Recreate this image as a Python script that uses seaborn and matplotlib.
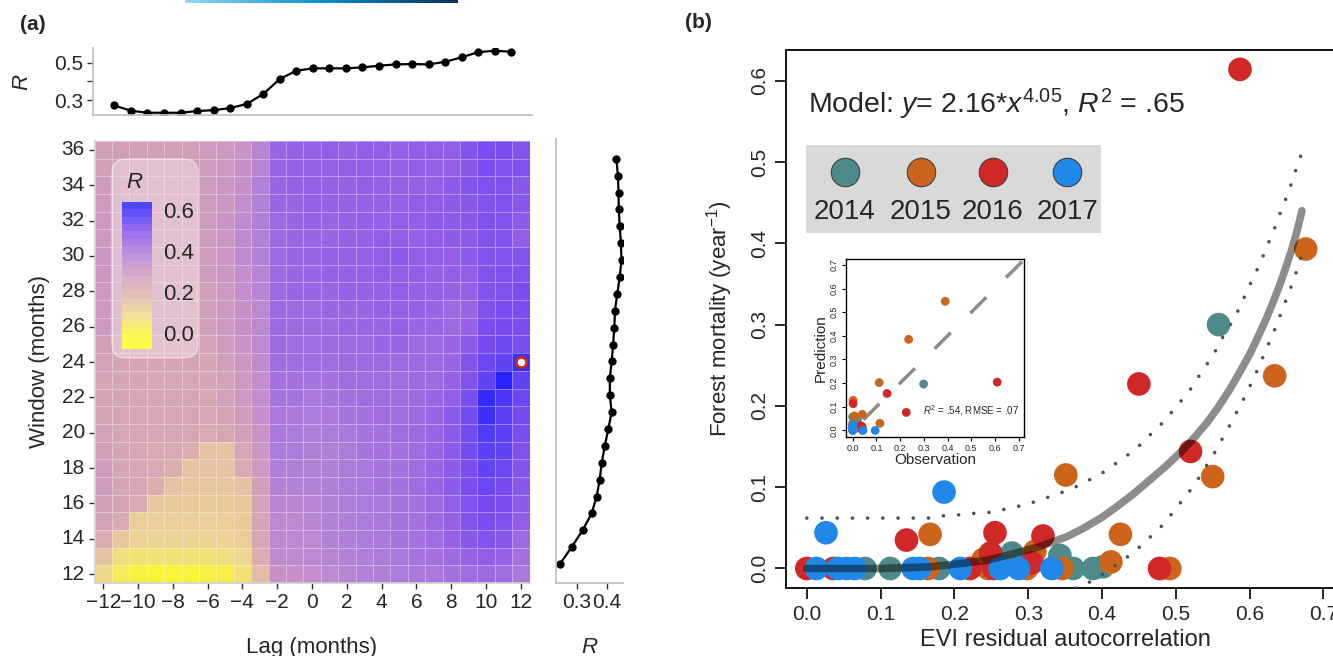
import numpy as np
import pandas as pd
import matplotlib
matplotlib.use("Agg")
import matplotlib.pyplot as plt
import seaborn as sns
from matplotlib.colors import LinearSegmentedColormap, Normalize
from matplotlib.patches import FancyBboxPatch, Rectangle
from matplotlib.transforms import IdentityTransform
import matplotlib.cm as cm

# ---------------- data: panel (a) ----------------
lags = list(range(-12, 13))
windows_desc = list(range(36, 11, -1))
windows = list(range(12, 37))

# R values, rows = window 36 (top) ... 12 (bottom), columns = lag -12 ... 12
heat_R = [
    [.27,.27,.27,.27,.27,.27,.28,.29,.31,.36,.45,.46,.46,.47,.46,.47,.47,.46,.47,.47,.47,.50,.52,.52,.50],  # 36
    [.27,.27,.26,.26,.26,.27,.28,.29,.32,.36,.45,.46,.46,.46,.47,.47,.46,.46,.47,.46,.47,.49,.52,.51,.51],  # 35
    [.28,.27,.26,.26,.26,.27,.28,.30,.32,.37,.45,.46,.46,.46,.46,.47,.46,.46,.46,.46,.48,.50,.51,.51,.49],  # 34
    [.28,.27,.26,.26,.26,.26,.28,.30,.33,.37,.45,.45,.46,.46,.46,.46,.46,.46,.47,.47,.48,.49,.50,.51,.49],  # 33
    [.29,.27,.26,.26,.26,.26,.28,.31,.34,.38,.44,.45,.46,.45,.46,.47,.46,.47,.47,.48,.48,.49,.51,.50,.48],  # 32
    [.29,.27,.26,.26,.26,.26,.28,.30,.34,.37,.44,.45,.45,.45,.46,.46,.47,.47,.46,.47,.48,.48,.50,.50,.47],  # 31
    [.30,.28,.26,.26,.26,.26,.28,.30,.34,.37,.44,.45,.45,.46,.46,.46,.47,.48,.47,.47,.47,.48,.50,.50,.50],  # 30
    [.30,.28,.26,.26,.26,.26,.28,.30,.33,.36,.44,.45,.45,.46,.46,.46,.47,.47,.47,.46,.47,.47,.50,.51,.51],  # 29
    [.29,.28,.26,.26,.26,.26,.27,.29,.33,.36,.44,.45,.45,.45,.46,.46,.46,.47,.46,.46,.46,.46,.50,.51,.52],  # 28
    [.29,.27,.26,.26,.26,.26,.27,.29,.32,.35,.44,.44,.44,.45,.45,.45,.46,.46,.46,.45,.44,.45,.51,.52,.52],  # 27
    [.29,.27,.26,.26,.26,.26,.27,.29,.32,.35,.44,.44,.44,.44,.45,.45,.45,.46,.45,.45,.44,.46,.52,.53,.52],  # 26
    [.27,.26,.25,.25,.25,.25,.26,.28,.31,.35,.44,.43,.43,.44,.44,.44,.45,.45,.44,.44,.45,.48,.53,.54,.52],  # 25
    [.26,.25,.25,.25,.25,.25,.25,.27,.30,.34,.43,.43,.43,.43,.44,.44,.44,.44,.44,.44,.45,.50,.54,.55,.60],  # 24
    [.25,.25,.25,.24,.24,.24,.25,.26,.29,.33,.42,.42,.41,.42,.43,.43,.43,.43,.44,.44,.46,.51,.55,.63,.55],  # 23
    [.25,.25,.24,.24,.24,.24,.24,.26,.29,.33,.41,.41,.40,.41,.42,.43,.43,.43,.44,.45,.47,.52,.61,.58,.54],  # 22
    [.25,.24,.24,.24,.24,.24,.24,.25,.28,.32,.40,.40,.39,.40,.41,.42,.43,.43,.44,.45,.48,.53,.60,.56,.53],  # 21
    [.26,.24,.24,.24,.24,.24,.23,.24,.27,.31,.40,.39,.38,.39,.40,.41,.42,.43,.44,.45,.48,.53,.57,.56,.52],  # 20
    [.27,.25,.24,.23,.23,.21,.15,.15,.24,.30,.39,.39,.38,.38,.39,.41,.42,.42,.43,.45,.48,.53,.56,.55,.51],  # 19
    [.28,.25,.24,.23,.20,.15,.15,.15,.22,.29,.38,.38,.37,.38,.39,.40,.41,.42,.43,.45,.48,.52,.55,.54,.50],  # 18
    [.28,.25,.24,.20,.15,.14,.14,.14,.16,.27,.37,.37,.37,.38,.39,.40,.41,.42,.43,.45,.48,.52,.54,.53,.49],  # 17
    [.27,.25,.22,.14,.13,.13,.13,.13,.14,.26,.36,.36,.36,.37,.38,.39,.40,.41,.42,.44,.47,.51,.53,.52,.48],  # 16
    [.26,.22,.12,.12,.12,.12,.12,.12,.13,.25,.35,.35,.36,.37,.38,.39,.40,.41,.42,.44,.46,.50,.52,.51,.47],  # 15
    [.21,.14,.11,.10,.10,.10,.10,.10,.12,.24,.35,.35,.35,.37,.38,.39,.40,.41,.42,.43,.46,.49,.50,.49,.44],  # 14
    [.15,.07,.06,.06,.06,.06,.06,.07,.09,.21,.34,.34,.35,.36,.37,.38,.39,.40,.41,.42,.44,.46,.47,.46,.42],  # 13
    [.09,.03,.01,.00,.00,.00,.01,.02,.06,.17,.32,.32,.33,.35,.36,.37,.38,.39,.40,.40,.42,.43,.44,.43,.40],  # 12
]
best_lag, best_window = 12, 24

lag_R = [0.271, 0.243, 0.232, 0.232, 0.232, 0.241, 0.246, 0.257, 0.279, 0.332, 0.413, 0.457,
         0.470, 0.470, 0.470, 0.475, 0.484, 0.491, 0.493, 0.491, 0.505, 0.529, 0.557, 0.564, 0.559]
window_R = [0.244, 0.283, 0.320, 0.350, 0.367, 0.377, 0.384, 0.394, 0.406, 0.417, 0.411, 0.411, 0.417,
            0.422, 0.426, 0.428, 0.436, 0.444, 0.450, 0.448, 0.444, 0.441, 0.440, 0.438, 0.433]

# ---------------- data: panel (b) ----------------
years = ["2014", "2015", "2016", "2017"]
year_colors = ["#4f8a8b", "#cc651b", "#d02727", "#1f88e9"]

x_2014 = [0.079, 0.113, 0.179, 0.278, 0.343, 0.361, 0.388, 0.401, 0.558]
y_2014 = [0.000, 0.000, 0.000, 0.019, 0.016, 0.000, 0.000, 0.002, 0.300]
x_2015 = [0.164, 0.167, 0.239, 0.246, 0.298, 0.309, 0.346, 0.351, 0.412, 0.425, 0.492, 0.550, 0.634, 0.676]
y_2015 = [0.000, 0.042, 0.011, 0.000, 0.000, 0.021, 0.000, 0.115, 0.008, 0.042, 0.000, 0.113, 0.237, 0.393]
x_2016 = [0.000, 0.036, 0.135, 0.221, 0.249, 0.253, 0.255, 0.305, 0.320, 0.450, 0.478, 0.520, 0.587]
y_2016 = [0.000, 0.000, 0.035, 0.000, 0.019, 0.000, 0.044, 0.007, 0.040, 0.227, 0.000, 0.144, 0.614]
x_2017 = [0.013, 0.026, 0.042, 0.054, 0.065, 0.144, 0.153, 0.186, 0.208, 0.262, 0.287, 0.332]
y_2017 = [0.000, 0.044, 0.000, 0.000, 0.000, 0.000, 0.000, 0.094, 0.000, 0.000, 0.000, 0.000]

fit_x = [0.0, 0.099, 0.167, 0.208, 0.244, 0.279, 0.316, 0.352, 0.374, 0.400, 0.420, 0.443, 0.465,
         0.488, 0.510, 0.526, 0.542, 0.558, 0.573, 0.587, 0.601, 0.612, 0.623, 0.632, 0.641, 0.649,
         0.657, 0.664, 0.671]
fit_y = [0.0, 0.000, 0.002, 0.006, 0.010, 0.018, 0.027, 0.039, 0.049, 0.063, 0.076, 0.092, 0.109,
         0.127, 0.146, 0.162, 0.179, 0.199, 0.220, 0.242, 0.265, 0.286, 0.308, 0.328, 0.349, 0.370,
         0.392, 0.414, 0.440]
upper_x = [0.000, 0.167, 0.186, 0.206, 0.228, 0.248, 0.269, 0.289, 0.309, 0.347, 0.366, 0.385, 0.403,
           0.420, 0.437, 0.453, 0.468, 0.483, 0.496, 0.509, 0.522, 0.533, 0.545, 0.556, 0.565, 0.576,
           0.586, 0.594, 0.603, 0.612, 0.620, 0.628, 0.636, 0.643, 0.651, 0.658, 0.664, 0.671]
upper_y = [0.062, 0.062, 0.065, 0.066, 0.068, 0.069, 0.073, 0.077, 0.082, 0.094, 0.101, 0.110, 0.119,
           0.130, 0.141, 0.153, 0.167, 0.180, 0.194, 0.208, 0.223, 0.239, 0.255, 0.271, 0.287, 0.303,
           0.320, 0.336, 0.354, 0.371, 0.388, 0.406, 0.423, 0.441, 0.459, 0.477, 0.494, 0.512]
lower_x = [0.330, 0.366, 0.385, 0.403, 0.420, 0.437, 0.453, 0.468, 0.483, 0.496, 0.509, 0.522, 0.533,
           0.544, 0.555, 0.565, 0.575, 0.584, 0.594, 0.603, 0.612, 0.620, 0.628, 0.636, 0.643, 0.651,
           0.658, 0.665, 0.671]
lower_y = [-0.045, -0.023, -0.016, -0.006, 0.005, 0.016, 0.028, 0.041, 0.054, 0.069, 0.084, 0.099, 0.114,
           0.130, 0.146, 0.163, 0.179, 0.195, 0.212, 0.229, 0.247, 0.264, 0.281, 0.298, 0.315, 0.334,
           0.351, 0.369, 0.387]

# inset: observation vs prediction
obs_2014 = [0.299, 0.000, 0.010, 0.020, 0.000]
pred_2014 = [0.196, 0.057, 0.030, 0.045, 0.020]
obs_2015 = [0.390, 0.236, 0.112, 0.041, 0.115, 0.002, 0.008, 0.000, 0.040]
pred_2015 = [0.546, 0.385, 0.202, 0.068, 0.030, 0.127, 0.061, 0.030, 0.000]
obs_2016 = [0.609, 0.145, 0.226, 0.002, 0.040, 0.025, 0.035, 0.000]
pred_2016 = [0.204, 0.156, 0.076, 0.113, 0.015, 0.012, 0.020, 0.000]
obs_2017 = [0.095, 0.044, 0.000, 0.000, 0.002, 0.005, 0.000]
pred_2017 = [0.000, 0.000, 0.000, 0.010, 0.025, 0.005, 0.015]
one_to_one = [0.045, 0.730]

model_text = r"Model: $y$= 2.16*$x^{4.05}$, $R^2$ = .65"
inset_text = r"$R^2$ = .54, RMSE = .07"

# ---------------- style ----------------
sns.set_theme(style="white")
plt.rcParams['font.family'] = ['Liberation Sans', 'DejaVu Sans']
plt.rcParams['mathtext.fontset'] = 'custom'
plt.rcParams['mathtext.rm'] = 'Liberation Sans'
plt.rcParams['mathtext.it'] = 'Liberation Sans:italic'
plt.rcParams['mathtext.bf'] = 'Liberation Sans:bold'
plt.rcParams['axes.unicode_minus'] = True

W, H = 1333, 656
fig = plt.figure(figsize=(W / 100, H / 100), dpi=100)


def box(l, t, r, b):
    return [l / W, 1 - b / H, (r - l) / W, (b - t) / H]


vmin, vmax = -0.08, 0.64
anchors = [(-0.08, "#ffff20"), (0.0, "#f8f438"), (0.05, "#f4e470"), (0.10, "#eed494"),
           (0.15, "#e6c4a2"), (0.20, "#dcaeae"), (0.26, "#d4a2b8"), (0.32, "#c890c8"),
           (0.38, "#b080d8"), (0.46, "#9762e6"), (0.52, "#7a4ef0"), (0.56, "#5c40f4"),
           (0.60, "#3a30f8"), (0.64, "#2020ff")]
cmap = LinearSegmentedColormap.from_list(
    "rcmap", [((v - vmin) / (vmax - vmin), c) for v, c in anchors])

# ---------------- heatmap ----------------
ax_h = fig.add_axes(box(94.5, 141, 529.5, 583))
heat_df = pd.DataFrame(heat_R, index=windows_desc, columns=lags)
sns.heatmap(heat_df, ax=ax_h, cmap=cmap, vmin=vmin, vmax=vmax, cbar=False,
            linewidths=0.5, linecolor=(1, 1, 1, 0.35))
xt = [lags.index(l) + 0.5 for l in lags if l % 2 == 0]
ax_h.set_xticks(xt)
ax_h.set_xticklabels([("\u2212" + str(-l)) if l < 0 else str(l) for l in lags if l % 2 == 0],
                     rotation=0, fontsize=15)
yt = [windows_desc.index(w) + 0.5 for w in windows_desc if w % 2 == 0]
ax_h.set_yticks(yt)
ax_h.set_yticklabels([str(w) for w in windows_desc if w % 2 == 0], rotation=0, fontsize=15)
ax_h.tick_params(axis='both', which='both', length=4, width=1, color='#333333', pad=3,
                 bottom=True, left=True)
ax_h.set_xlabel("Lag (months)", fontsize=16, labelpad=18)
ax_h.set_ylabel("Window (months)", fontsize=16, labelpad=8)
for s in ['left', 'bottom']:
    ax_h.spines[s].set_visible(True)
    ax_h.spines[s].set_color('#d0d0d0')
ax_h.scatter([lags.index(best_lag) + 0.5], [windows_desc.index(best_window) + 0.5],
             s=55, facecolor='white', edgecolor='#d02020', linewidth=2, zorder=5)

# legend box for colour scale
legend_bg = FancyBboxPatch((112, H - 358), 86, 199, boxstyle="round,pad=0,rounding_size=14",
                           transform=IdentityTransform(), facecolor=(1, 1, 1, 0.35),
                           edgecolor=(1, 1, 1, 0.45), linewidth=1, zorder=3)
fig.add_artist(legend_bg)
fig.text(134 / W, 1 - 182 / H, "R", fontsize=16, style='italic', ha='center', va='center', zorder=6)
cax = fig.add_axes(box(122, 202, 152, 349))
cax.set_zorder(5)
sm = cm.ScalarMappable(norm=Normalize(vmin, vmax), cmap=cmap)
cb = fig.colorbar(sm, cax=cax, boundaries=np.linspace(vmin, vmax, 21))
cb.outline.set_visible(False)
cb.solids.set_alpha(0.85)
cb.set_ticks([0.0, 0.2, 0.4, 0.6])
cb.set_ticklabels(["0.0", "0.2", "0.4", "0.6"])
cax.tick_params(axis='y', which='both', left=True, right=True, direction='in', color='white',
                length=5, width=1.2, labelsize=16, pad=8)
cax.minorticks_off()

# ---------------- top marginal ----------------
ax_t = fig.add_axes(box(93, 48, 532, 115))
sns.lineplot(x=lags, y=lag_R, ax=ax_t, color='black', marker='o', markersize=6,
             markeredgewidth=0, linewidth=1.6)
ax_t.set_xlim(-13.29, 13.25)
ax_t.set_ylim(0.22, 0.579)
ax_t.set_xticks([])
ax_t.set_yticks([0.3, 0.4, 0.5])
ax_t.set_yticklabels(["0.3", "", "0.5"], fontsize=15)
ax_t.tick_params(axis='y', length=4, width=1, color='#333333', left=True, pad=3)
ax_t.set_ylabel("R", fontsize=16, style='italic', labelpad=16)
for s in ['top', 'right']:
    ax_t.spines[s].set_visible(False)
for s in ['left', 'bottom']:
    ax_t.spines[s].set_color('#c0c0c0')

# ---------------- right marginal ----------------
ax_r = fig.add_axes(box(556, 139, 623, 583))
sns.lineplot(x=window_R, y=windows, ax=ax_r, orient='y', estimator=None, color='black',
             marker='o', markersize=6, markeredgewidth=0, linewidth=1.6)
ax_r.set_ylim(10.88, 37.17)
ax_r.set_xlim(0.231, 0.455)
ax_r.set_yticks([])
ax_r.set_xticks([0.3, 0.4])
ax_r.set_xticklabels(["0.3", "0.4"], fontsize=15)
ax_r.tick_params(axis='x', length=4, width=1, color='#333333', bottom=True, pad=3)
ax_r.set_xlabel("R", fontsize=16, style='italic', labelpad=18)
ax_r.set_ylabel("")
for s in ['top', 'right']:
    ax_r.spines[s].set_visible(False)
for s in ['left', 'bottom']:
    ax_r.spines[s].set_color('#c0c0c0')

# ---------------- panel (b) ----------------
ax_b = fig.add_axes(box(786, 50, 1345, 588))
pts = pd.concat([
    pd.DataFrame({"x": x_2014, "y": y_2014, "year": "2014"}),
    pd.DataFrame({"x": x_2015, "y": y_2015, "year": "2015"}),
    pd.DataFrame({"x": x_2016, "y": y_2016, "year": "2016"}),
    pd.DataFrame({"x": x_2017, "y": y_2017, "year": "2017"}),
], ignore_index=True)
pal = dict(zip(years, year_colors))
sns.scatterplot(data=pts, x="x", y="y", hue="year", hue_order=years, palette=pal, s=290,
                linewidth=0, alpha=1, legend=False, ax=ax_b, zorder=3)
sns.lineplot(x=fit_x, y=fit_y, ax=ax_b, color='black', alpha=0.45, linewidth=5.5,
             solid_capstyle='round', solid_joinstyle='round', sort=False, estimator=None, zorder=4)
for bx, by in [(upper_x, upper_y), (lower_x, lower_y)]:
    sns.lineplot(x=bx, y=by, ax=ax_b, color='#505050', linewidth=2.6, sort=False, estimator=None,
                 zorder=5)
for ln in ax_b.lines[-2:]:
    ln.set_dash_capstyle('round')
    ln.set_linestyle((0, (0.01, 4.2)))
ax_b.set_xlim(-0.0282, 0.7293)
ax_b.set_ylim(-0.024, 0.6378)
ax_b.set_xticks([0.0, 0.1, 0.2, 0.3, 0.4, 0.5, 0.6, 0.7])
ax_b.set_xticklabels(["0.0", "0.1", "0.2", "0.3", "0.4", "0.5", "0.6", "0.7"], fontsize=15)
ax_b.set_yticks([0.0, 0.1, 0.2, 0.3, 0.4, 0.5, 0.6])
ax_b.set_yticklabels(["0.0", "0.1", "0.2", "0.3", "0.4", "0.5", "0.6"], fontsize=15,
                     rotation=90, va='center')
ax_b.tick_params(axis='both', direction='out', length=8, width=1.2, color='black',
                 bottom=True, left=True, pad=4)
ax_b.set_xlabel("EVI residual autocorrelation", fontsize=17, labelpad=4)
ax_b.set_ylabel("Forest mortality (year$^{-1}$)", fontsize=16, labelpad=11)
for s in ax_b.spines.values():
    s.set_color('black')
    s.set_linewidth(1.3)

ax_b.text(0.039, 0.898, model_text, transform=ax_b.transAxes, fontsize=20.5, va='center', ha='left')
ax_b.add_patch(Rectangle((0.0358, 0.660), 0.5277, 0.1634, transform=ax_b.transAxes,
                         facecolor='#d9d9d9', edgecolor='none', zorder=2))
leg_x = [0.1056, 0.2415, 0.3703, 0.5027]
for lx, yr, col in zip(leg_x, years, year_colors):
    ax_b.scatter([lx], [0.7732], s=420, color=col, edgecolor='#404040', linewidth=0.8,
                 transform=ax_b.transAxes, zorder=3, clip_on=False)
    ax_b.text(lx, 0.699, yr, transform=ax_b.transAxes, fontsize=20, ha='center', va='center',
              zorder=3)

# ---------------- inset ----------------
ax_i = fig.add_axes(box(846, 259, 1024, 437))
ax_i.set_facecolor('white')
ins = pd.concat([
    pd.DataFrame({"o": obs_2014, "p": pred_2014, "year": "2014"}),
    pd.DataFrame({"o": obs_2015, "p": pred_2015, "year": "2015"}),
    pd.DataFrame({"o": obs_2016, "p": pred_2016, "year": "2016"}),
    pd.DataFrame({"o": obs_2017, "p": pred_2017, "year": "2017"}),
], ignore_index=True)
sns.scatterplot(data=ins, x="o", y="p", hue="year", hue_order=years, palette=pal, s=40,
                linewidth=0, legend=False, ax=ax_i, zorder=3)
ax_i.plot(one_to_one, one_to_one, color='#8c8c8c', linewidth=2.5, dashes=(6.5, 8),
          solid_capstyle='butt', zorder=2)
ax_i.set_xlim(-0.028, 0.722)
ax_i.set_ylim(-0.028, 0.725)
ticks7 = [0.0, 0.1, 0.2, 0.3, 0.4, 0.5, 0.6, 0.7]
ax_i.set_xticks(ticks7)
ax_i.set_xticklabels(["0.0", "0.1", "0.2", "0.3", "0.4", "0.5", "0.6", "0.7"], fontsize=6.5)
ax_i.set_yticks(ticks7)
ax_i.set_yticklabels(["0.0", "0.1", "0.2", "0.3", "0.4", "0.5", "0.6", "0.7"], fontsize=6.5,
                     rotation=90, va='center')
ax_i.tick_params(axis='both', direction='out', length=3, width=0.8, color='black',
                 bottom=True, left=True, pad=2)
ax_i.set_xlabel("Observation", fontsize=11, labelpad=0)
ax_i.set_ylabel("Prediction", fontsize=11, labelpad=2)
for s in ax_i.spines.values():
    s.set_color('black')
    s.set_linewidth(1.0)
ax_i.text(0.295, 0.085, inset_text, fontsize=7, ha='left', va='center')

# ---------------- labels and banner ----------------
fig.text(20 / W, 1 - 25 / H, "(a)", fontsize=15, fontweight='bold', ha='left', va='center')
fig.text(685 / W, 1 - 22 / H, "(b)", fontsize=15, fontweight='bold', ha='left', va='center')
ax_g = fig.add_axes(box(185, 0, 458, 3))
grad = LinearSegmentedColormap.from_list("banner", ["#92d8f6", "#0a8fcf", "#0a2f58"])
ax_g.imshow(np.linspace(0, 1, 256)[None, :], aspect='auto', cmap=grad)
ax_g.axis('off')

fig.savefig("out.png", dpi=100)
